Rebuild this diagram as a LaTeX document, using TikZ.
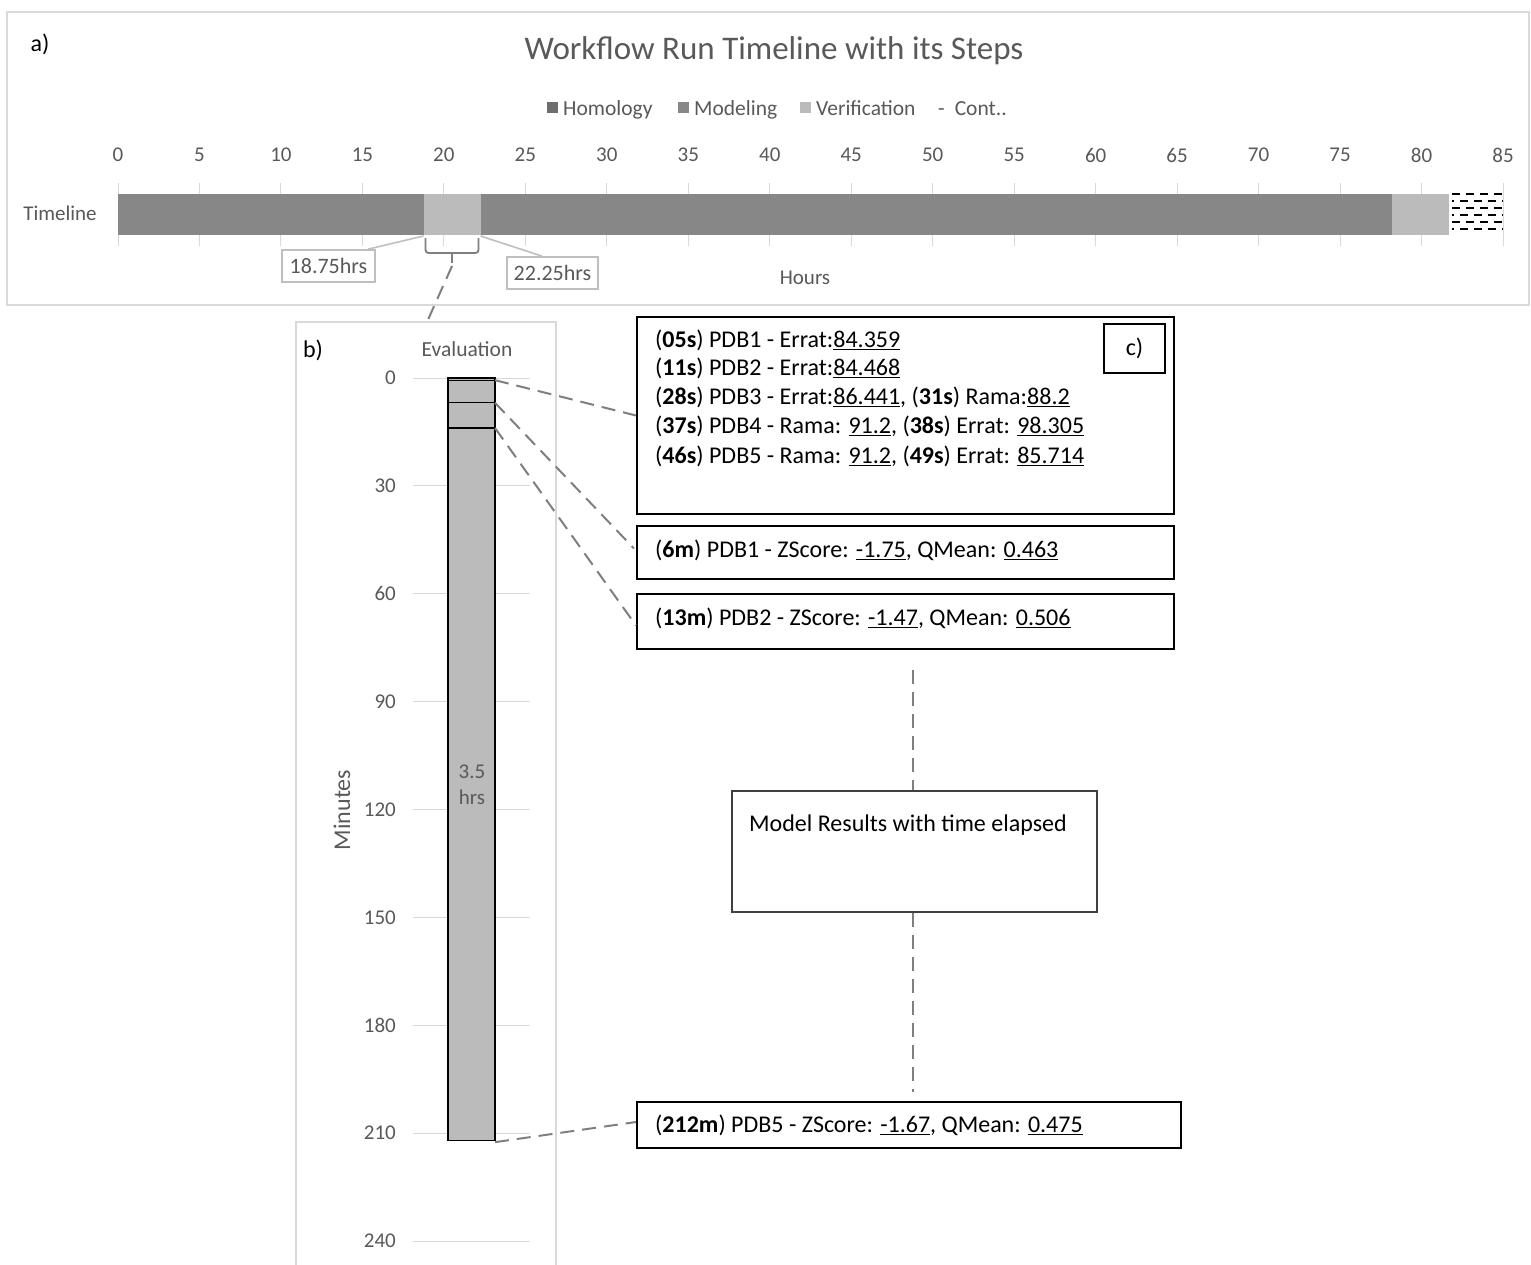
\documentclass[tikz,border=0pt]{standalone}
\usepackage{fontspec}
\setmainfont{Carlito}
\usetikzlibrary{calc}

\definecolor{framegray}{HTML}{D9D9D9}
\definecolor{gridgray}{HTML}{D9D9D9}
\definecolor{txtgray}{HTML}{595959}
\definecolor{homc}{HTML}{6E6E6E}
\definecolor{modc}{HTML}{878787}
\definecolor{verc}{HTML}{BBBBBB}
\definecolor{conngray}{HTML}{7F7F7F}
\definecolor{callgray}{HTML}{BFBFBF}

\tikzset{
  panelframe/.style={draw=framegray, line width=2pt},
  gridline/.style={draw=gridgray, line width=1pt},
  axlbl/.style={text=txtgray, font=\fontsize{21}{24}\selectfont, inner sep=0pt},
  legtxt/.style={text=txtgray, font=\fontsize{21.5}{24}\selectfont, inner sep=0pt, anchor=base west},
  legsq/.style={inner sep=0pt, minimum size=11pt},
  callbox/.style={draw=callgray, line width=1.6pt, fill=white, text=txtgray,
    font=\fontsize{22}{24}\selectfont, inner sep=0pt, minimum height=32pt},
  callline/.style={draw=callgray, line width=1.6pt},
  bracket/.style={draw=conngray, line width=1.8pt, rounded corners=3pt},
  conn/.style={draw=conngray, line width=2pt, dash pattern=on 14pt off 8pt},
  resbox/.style={draw=black, line width=2pt, inner sep=0pt},
  restxt/.style={font=\fontsize{24}{28}\selectfont, inner sep=0pt, anchor=west},
  panlbl/.style={font=\fontsize{24}{28}\selectfont, inner sep=0pt},
  hatchline/.style={draw=black, line width=1.2pt, dash pattern=on 8pt off 6pt}
}

\begin{document}
\begin{tikzpicture}[x=1pt, y=-1pt]
\useasboundingbox (0,0) rectangle (1531,1264);
\fill[white] (0,0) rectangle (1531,1264);

% ---------------- panel a: timeline chart ----------------
\draw[panelframe] (7,12) rectangle (1529,305);
\node[panlbl] (alabel) at (40,44) {a)};
\node[text=txtgray, font=\fontsize{33}{38}\selectfont, inner sep=0pt] (title) at (774,51)
  {Workflow Run Timeline with its Steps};

% legend
\node[legsq, fill=homc] (lsq1) at (552.5,107.5) {};
\node[legtxt] (ltx1) at (563,115) {Homology};
\node[legsq, fill=modc] (lsq2) at (683.5,107.5) {};
\node[legtxt] (ltx2) at (694,115) {Modeling};
\node[legsq, fill=verc] (lsq3) at (805.5,107.5) {};
\node[legtxt] (ltx3) at (816,115) {Verification};
\node[legtxt] (ltx4) at (938,115) {-\hspace{10pt}Cont..};

\node[axlbl] (tllabel) at (60,213) {Timeline};
\node[axlbl] (hours) at (805,278) {Hours};

\begin{scope}[shift={(118,0)}, x=16.294pt]
  % vertical grid and hour labels
  \foreach \v in {0,5,...,85} {
    \draw[gridline] (\v,183) -- (\v,246);
    \node[axlbl] (hl\v) at (\v,155) {\v};
  }
  % run segments
  \fill[modc] (0,194) rectangle (18.75,235);
  \fill[verc] (18.75,194) rectangle (22.25,235);
  \fill[modc] (22.25,194) rectangle (78.2,235);
  \fill[verc] (78.2,194) rectangle (81.7,235);
  \fill[white] (81.7,192) rectangle (85,237);
  % continuation hatch
  \foreach \yy/\ph in {194/0,201/6,208/0,215/6,222/0,229/6} {
    \draw[hatchline, dash phase=\ph pt] (81.9,\yy) -- (85,\yy);
  }
  \coordinate (verL) at (18.75,235);
  \coordinate (verR) at (22.25,235);
\end{scope}

% callouts for the verification step
\node[callbox, minimum width=93pt] (c1) at (328.5,266) {18.75hrs};
\node[callbox, minimum width=91pt] (c2) at (552.5,273) {22.25hrs};
\draw[callline] ($(c1.north east)+(-8,0)$) -- ($(verL)+(0,1)$);
\draw[callline] ($(verR)+(0,1)$) -- ($(c2.north west)+(36,0)$);

% bracket over the verification span
\draw[bracket] ($(verL)+(2,3)$) -- ++(0,15) -- ($(verR)+(-2,18)$) -- ++(0,-15);
\draw[bracket] ($(verL)!0.5!(verR)+(0,18)$) -- ++(0,10) coordinate (bstem);
\coordinate (btop) at (427,322);
\draw[conn] ($(bstem)+(0,3)$) -- (btop);

% ---------------- panel b: evaluation step ----------------
\draw[panelframe] (296,1270) -- (296,322) -- (556,322) -- (556,1270);
\node[panlbl] (blabel) at (313,350) {b)};
\node[text=txtgray, font=\fontsize{21.5}{24}\selectfont, inner sep=0pt] (evaltitle) at (467,349) {Evaluation};
\node[text=txtgray, font=\fontsize{24}{28}\selectfont, inner sep=0pt, rotate=90] (minutes) at (342,810) {Minutes};

\begin{scope}[shift={(0,378)}, y=-3.596pt]
  \foreach \m in {0,30,...,240} {
    \draw[gridline] (413,\m) -- (530,\m);
    \node[axlbl, anchor=east] (ml\m) at (396,\m) {\m};
  }
  \filldraw[fill=verc, draw=black, line width=1.2pt] (448,0) rectangle (495,212);
  \foreach \s in {0.8,6.9,13.9}
    \draw[black, line width=1.2pt] (448,\s) -- (495,\s);
  \coordinate (e1) at (495,0.6);
  \coordinate (e2) at (495,6.9);
  \coordinate (e3) at (495,13.9);
  \coordinate (e4) at (495,212.5);
\end{scope}
\node[text=txtgray, font=\fontsize{21}{26}\selectfont, inner sep=0pt, align=center] (dur) at (472,785) {3.5\\hrs};

% ---------------- panel c: model results ----------------
\node[resbox, minimum width=537pt, minimum height=197pt] (cbox) at (905.5,415.5) {};
\node[resbox, minimum width=61pt, minimum height=49pt, font=\fontsize{24}{28}\selectfont] (clabel) at (1134.5,348.5) {c)};
\node[restxt] (r1) at (655,340) {(\textbf{05s}) PDB1 - Errat:\underline{84.359}};
\node[restxt] (r2) at (655,368) {(\textbf{11s}) PDB2 - Errat:\underline{84.468}};
\node[restxt] (r3) at (655,397) {(\textbf{28s}) PDB3 - Errat:\underline{86.441}, (\textbf{31s}) Rama:\underline{88.2}};
\node[restxt] (r4) at (655,426) {(\textbf{37s}) PDB4 - Rama: \underline{91.2}, (\textbf{38s}) Errat: \underline{98.305}};
\node[restxt] (r5) at (655,456) {(\textbf{46s}) PDB5 - Rama: \underline{91.2}, (\textbf{49s}) Errat: \underline{85.714}};

\node[resbox, minimum width=537pt, minimum height=53pt] (b6m) at (905.5,552.5) {};
\node[restxt] (t6m) at (655,550) {(\textbf{6m}) PDB1 - ZScore: \underline{-1.75}, QMean: \underline{0.463}};

\node[resbox, minimum width=537pt, minimum height=55pt] (b13m) at (905.5,621.5) {};
\node[restxt] (t13m) at (655,618) {(\textbf{13m}) PDB2 - ZScore: \underline{-1.47}, QMean: \underline{0.506}};

\node[draw=black!75, line width=1.2pt, minimum width=365pt, minimum height=121pt, inner sep=0pt] (model) at (914.5,851.5) {};
\node[restxt] (modeltxt) at (749,825) {Model Results with time elapsed};

\node[resbox, minimum width=544pt, minimum height=46pt] (b212m) at (909,1125) {};
\node[restxt] (t212m) at (655,1125) {(\textbf{212m}) PDB5 - ZScore: \underline{-1.67}, QMean: \underline{0.475}};

\coordinate (vtop) at (913,670);
\coordinate (vbot) at (913,1092);

% dashed connectors from the evaluation bar to the results
\draw[conn] (e1) -- (cbox.west);
\draw[conn] (e2) -- ($(b6m.west)+(-2,-4)$);
\draw[conn] (e3) -- ($(b13m.west)+(0,4)$);
\draw[conn] (e4) -- ($(b212m.west)+(0,-3)$);
\draw[conn] (vtop) -- (model.north -| vtop);
\draw[conn] (model.south -| vtop) -- (vbot);
\end{tikzpicture}
\end{document}
